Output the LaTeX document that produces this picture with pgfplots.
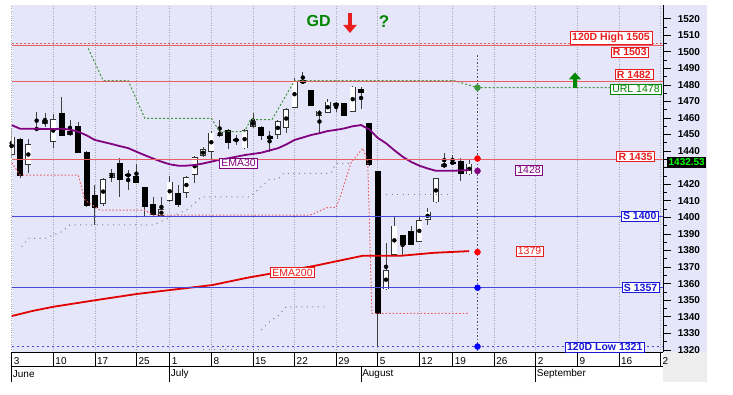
\documentclass[border=0pt]{standalone}
\usepackage{fontspec}
\setmainfont{Liberation Sans}
\usepackage{pgfplots}
\usepackage{pgfplotstable}
\pgfplotsset{compat=1.18}
\usetikzlibrary{arrows.meta}

\definecolor{lav}{RGB}{230,230,250}
\definecolor{rtxt}{RGB}{232,30,30}
\definecolor{rline}{RGB}{232,95,95}
\definecolor{btxt}{RGB}{25,25,215}
\definecolor{bline}{RGB}{70,70,215}
\definecolor{gtxt}{RGB}{0,135,0}
\definecolor{gline}{RGB}{60,150,60}
\definecolor{purp}{RGB}{128,0,128}
\definecolor{ema}{RGB}{225,0,0}
\definecolor{gridc}{RGB}{165,165,180}
\definecolor{vdot}{RGB}{80,80,100}

\pgfplotstableread{
i o h l c
0 1437.6 1453.7 1436.0 1448.7
2 1431.6 1447.0 1427.0 1444.3
4 1456.2 1462.8 1454.7 1458.8
5 1445.6 1462.4 1441.7 1459.2
7 1450.0 1459.0 1449.0 1452.0
11 1408.0 1424.0 1407.0 1423.1
12 1424.0 1429.0 1421.5 1426.6
18 1400.8 1412.0 1400.5 1404.8
19 1410.0 1425.0 1409.0 1421.5
21 1414.9 1425.0 1411.5 1424.2
22 1425.5 1437.0 1420.9 1436.2
23 1437.0 1442.3 1436.5 1441.0
24 1439.6 1452.0 1435.0 1451.1
25 1449.1 1458.8 1448.5 1451.7
28 1441.7 1453.5 1441.0 1452.7
29 1454.7 1462.8 1454.0 1458.3
32 1449.7 1459.0 1447.3 1458.3
33 1454.1 1466.0 1450.7 1465.2
34 1466.2 1483.9 1466.0 1482.5
37 1461.4 1465.0 1450.7 1464.4
38 1463.2 1471.3 1462.8 1469.8
39 1467.2 1469.5 1463.8 1468.8
41 1463.8 1479.5 1463.5 1478.9
45 1356.5 1384.3 1356.0 1368.2
46 1377.2 1400.4 1376.8 1395.0
49 1385.3 1400.8 1385.0 1398.4
50 1398.4 1405.4 1395.4 1403.4
51 1409.0 1424.0 1408.5 1423.5
52 1430.6 1439.0 1430.0 1432.2
55 1426.0 1434.4 1425.5 1432.5
}\whiteC

\pgfplotstableread{
i o h l c
1 1447.0 1448.0 1424.0 1425.5
3 1453.7 1463.8 1453.0 1453.0
6 1462.4 1472.8 1449.0 1449.3
8 1454.7 1457.7 1439.0 1439.2
9 1439.0 1440.0 1406.0 1407.4
10 1412.9 1419.5 1395.4 1406.0
13 1432.6 1435.6 1412.1 1423.0
14 1425.8 1428.5 1416.5 1425.1
15 1424.5 1432.2 1420.5 1420.9
16 1417.9 1418.5 1400.8 1406.4
17 1408.0 1412.0 1400.8 1402.0
20 1414.5 1419.5 1406.4 1408.0
26 1452.7 1453.5 1441.0 1445.0
27 1447.0 1449.7 1443.7 1446.3
30 1454.3 1455.0 1446.7 1449.7
31 1448.6 1452.3 1439.6 1447.9
35 1482.5 1487.9 1480.9 1481.2
36 1476.4 1476.8 1467.0 1467.4
40 1468.8 1469.0 1461.0 1461.2
42 1477.3 1478.9 1465.2 1475.2
43 1456.8 1457.0 1431.0 1431.6
44 1427.5 1428.0 1321.9 1342.0
47 1388.9 1389.5 1377.2 1383.3
48 1391.3 1394.7 1383.5 1383.9
53 1433.3 1437.6 1431.6 1432.6
54 1433.6 1435.6 1422.1 1426.6
}\blackC

\begin{document}
\begin{tikzpicture}
\path (0pt,0pt) rectangle (733pt,395pt);
\fill[lav] (11.7pt,43pt) rectangle (707pt,390pt);
\fill[black!7] (663pt,13pt) rectangle (707pt,43pt);
\begin{axis}[
  at={(11.7pt,43pt)}, anchor=south west,
  width=651.3pt, height=347pt, scale only axis,
  xmin=0, xmax=78.3, ymin=1318.7, ymax=1528.2,
  clip mode=individual,
  axis x line*=bottom, axis y line*=right,
  axis line style={black, line width=0.7pt},
  tick align=outside,
  xtick={0,5,10,15,19,24,29,34,39,44,49,53,58,63,68,73,78},
  xticklabels={3,10,17,25,1,8,15,22,29,5,12,19,26,2,9,16,2},
  xtick style={/pgfplots/major tick length=14pt, black, line width=0.6pt},
  xticklabel style={anchor=north west, inner sep=1pt, xshift=1pt, font=\fontsize{10}{12}\selectfont},
  xmajorgrids=true,
  major x grid style={gridc, dotted, line width=0.6pt},
  ytick={1320,1330,...,1520},
  yticklabels={1320,1330,1340,1350,1360,1370,1380,1390,1400,1410,1420,,1440,1450,1460,1470,1480,1490,1500,1510,1520},
  minor y tick num=1,
  ytick style={/pgfplots/major tick length=8pt, /pgfplots/minor tick length=4pt, black, line width=0.6pt},
  yticklabel style={anchor=west, xshift=7pt, font=\bfseries\fontsize{10}{12}\selectfont},
]
% wicks
\addplot[only marks, mark=none, forget plot, error bars/.cd, y dir=both, y explicit, error mark=none, error bar style={line width=0.8pt, draw=black!75}]
  table[x=i, y expr={(\thisrow{h}+\thisrow{l})/2}, y error expr={(\thisrow{h}-\thisrow{l})/2}] {\whiteC};
\addplot[only marks, mark=none, forget plot, error bars/.cd, y dir=both, y explicit, error mark=none, error bar style={line width=0.8pt, draw=black!75}]
  table[x=i, y expr={(\thisrow{h}+\thisrow{l})/2}, y error expr={(\thisrow{h}-\thisrow{l})/2}] {\blackC};
% bodies
\addplot[only marks, mark=none, forget plot, error bars/.cd, y dir=both, y explicit, error mark=none, error bar style={line width=6pt, draw=black, line cap=butt}]
  table[x=i, y expr={(\thisrow{o}+\thisrow{c})/2}, y error expr={abs(\thisrow{o}-\thisrow{c})/2+0.3}] {\blackC};
\addplot[only marks, mark=none, forget plot, error bars/.cd, y dir=both, y explicit, error mark=none, error bar style={line width=6pt, draw=black!80, line cap=butt}]
  table[x=i, y expr={(\thisrow{o}+\thisrow{c})/2}, y error expr={abs(\thisrow{o}-\thisrow{c})/2}] {\whiteC};
\addplot[only marks, mark=none, forget plot, error bars/.cd, y dir=both, y explicit, error mark=none, error bar style={line width=4.5pt, draw=white, line cap=butt}]
  table[x=i, y expr={(\thisrow{o}+\thisrow{c})/2}, y error expr={max(abs(\thisrow{o}-\thisrow{c})/2-0.45,0)}] {\whiteC};

% gray dotted bands
\addplot[gray, line width=1pt, dash pattern=on 1pt off 4.5pt] coordinates {(1.2,1382.3) (2,1387.3) (4,1387.3) (6,1391.3) (7,1395.4) (17,1395.4) (21,1404.4) (22,1408.5) (22.8,1412.4) (28.7,1412.4) (30,1418.5) (31,1423) (32,1423) (32.7,1426.6) (38.4,1426.6) (39,1432.6) (40.8,1432.6)};
\addplot[gray, line width=1pt, dash pattern=on 1pt off 4.5pt] coordinates {(45,1413.5) (52.5,1413.5)};
\addplot[gray, line width=1pt, dash pattern=on 1pt off 4.5pt] coordinates {(30,1332) (31,1337) (32,1340.4) (33,1346) (38,1346)};
\addplot[gray, line width=1pt, dash pattern=on 1pt off 4.5pt] coordinates {(23,1320) (30,1320)};
% red dotted trailing line
\addplot[rline, line width=1pt, dash pattern=on 1.5pt off 2pt] coordinates {(0,1433) (1,1425.5) (8,1425.5) (8.8,1410.4) (10,1406.4) (10.6,1404.4) (16,1404.4) (16.9,1401.4) (35.9,1401.4) (38,1406) (39,1406) (39.6,1414) (40.8,1433) (42.2,1441.7) (42.8,1434) (43.3,1342) (55,1342)};
% green URL line
\addplot[gline, line width=1pt, dash pattern=on 2pt off 2pt] coordinates {(9.2,1502) (11,1482.5) (14,1482.5) (16,1459.8) (24,1459.8) (25,1451.7) (28,1451.7) (28.7,1459) (31.3,1459) (34,1482.5) (53.2,1482.5) (56,1478.3) (72,1478.3)};

% EMA30
\addplot[purp, line width=1.8pt] coordinates {(0,1455.7) (1,1453.5) (2,1453.5) (3,1453.5) (4,1453.3) (5,1453.3) (6,1453.5) (7,1453) (8,1451.7) (9,1449.5) (10,1446.7) (11,1445.5) (12,1444.3) (13,1443) (14,1441.8) (15,1439.6) (16,1437.5) (17,1435.5) (18,1433.6) (19,1432) (20,1431.2) (21,1431.2) (22,1431.6) (23,1432.5) (24,1433.6) (25,1434.8) (26,1435.6) (27,1436.6) (28,1437.6) (29,1438.3) (30,1439) (31,1440.4) (32,1441.7) (33,1444) (34,1446.7) (35,1448.2) (36,1449.7) (37,1450.8) (38,1452.1) (39,1452.8) (40,1453.7) (41,1455) (42,1455.7) (43,1453) (44,1448) (45,1444.7) (46,1440.5) (47,1436.6) (48,1433.5) (49,1431.2) (50,1429.5) (51,1428.1) (52,1428.1) (53,1428.1) (54,1428.3) (55,1428.6)};
% EMA200
\addplot[ema, line width=1.8pt] coordinates {(0,1340.4) (2.6,1343.6) (5,1346) (10.1,1350) (15,1353.7) (19,1356.1) (24.1,1359.1) (28.3,1363.5) (36.3,1370.6) (42.2,1376.8) (46.8,1376.8) (50.8,1378.6) (55,1379.6)};

% level lines
\addplot[rline, line width=0.8pt, dash pattern=on 2pt off 2pt] coordinates {(0,1505.3) (78.3,1505.3)};
\addplot[rline, line width=0.9pt] coordinates {(0,1503.5) (78.3,1503.5)};
\addplot[rline, line width=0.9pt] coordinates {(0,1482.3) (78.3,1482.3)};
\addplot[rline, line width=0.9pt] coordinates {(0,1435) (78.3,1435)};
\addplot[bline, line width=0.9pt] coordinates {(0,1400.4) (78.3,1400.4)};
\addplot[bline, line width=0.9pt] coordinates {(0,1357.5) (78.3,1357.5)};
\addplot[bline, line width=0.9pt, dash pattern=on 2.5pt off 2.5pt] coordinates {(0,1322) (78.3,1322)};

% projection line and dots
\addplot[vdot, line width=1.5pt, dash pattern=on 1.5pt off 2pt] coordinates {(56,1498) (56,1318.7)};
\addplot[only marks, mark=*, mark size=3pt, color=red] coordinates {(56,1435.5) (56,1379)};
\addplot[only marks, mark=*, mark size=3pt, color=purp] coordinates {(56,1428)};
\addplot[only marks, mark=*, mark size=3pt, color=gline] coordinates {(56,1478.3)};
\addplot[only marks, mark=*, mark size=3pt, color=blue] coordinates {(56,1357.5) (56,1322)};

% labels
\tikzset{lb/.style={draw=#1, text=#1, fill=white, line width=0.6pt, inner xsep=2pt, inner ysep=1.4pt, font=\fontsize{10.5}{12}\selectfont},
         lbb/.style={lb=#1, font=\bfseries\fontsize{10.5}{12}\selectfont}}
\node[lbb=rtxt] at (axis cs:72.05,1508.3) {120D High 1505};
\node[lbb=rtxt] at (axis cs:74.3,1499.8) {R 1503};
\node[lbb=rtxt] at (axis cs:74.8,1486.2) {R 1482};
\node[lb=gtxt] at (axis cs:75.05,1477.5) {URL 1478};
\node[lbb=rtxt] at (axis cs:75.0,1436.7) {R 1435};
\node[lb=purp] at (axis cs:62.2,1428.6) {1428};
\node[lbb=btxt] at (axis cs:75.5,1400.8) {S 1400};
\node[lb=rtxt] at (axis cs:62.25,1379.6) {1379};
\node[lbb=btxt] at (axis cs:75.6,1357.6) {S 1357};
\node[lbb=btxt] at (axis cs:71.3,1321.7) {120D Low 1321};
\node[lb=purp] at (axis cs:27.27,1432.8) {EMA30};
\node[lb=rtxt] at (axis cs:33.76,1366.7) {EMA200};
\node[fill=black, text=green, inner xsep=1.5pt, inner ysep=2pt, font=\bfseries\fontsize{10}{12}\selectfont] at (axis cs:81.15,1433.1) {1432.53};

% top annotations
\node[text=gtxt, font=\bfseries\fontsize{16}{18}\selectfont] at (axis cs:36.9,1518.3) {GD};
\node[text=gtxt, font=\bfseries\fontsize{17}{19}\selectfont] at (axis cs:44.76,1518) {?};
\draw[rtxt, line width=4pt, -{Triangle[width=13pt,length=8pt]}] (axis cs:40.67,1523.6) -- (axis cs:40.67,1511.3);
\draw[gtxt, line width=4pt, -{Triangle[width=12pt,length=7pt]}] (axis cs:67.72,1478.3) -- (axis cs:67.72,1487.5);

% x axis second row
\draw[black, line width=0.6pt] ([yshift=-14pt]axis cs:0,1318.7) -- ([yshift=-14pt]axis cs:78.3,1318.7);
\draw[black, line width=0.6pt] ([yshift=-14pt]axis cs:0,1318.7) -- ([yshift=-30pt]axis cs:0,1318.7);
\draw[black, line width=0.6pt] ([yshift=-14pt]axis cs:19,1318.7) -- ([yshift=-30pt]axis cs:19,1318.7);
\draw[black, line width=0.6pt] ([yshift=-14pt]axis cs:42,1318.7) -- ([yshift=-30pt]axis cs:42,1318.7);
\draw[black, line width=0.6pt] ([yshift=-14pt]axis cs:63,1318.7) -- ([yshift=-30pt]axis cs:63,1318.7);
\node[anchor=west, inner sep=1pt, font=\fontsize{10}{12}\selectfont] at ([yshift=-22pt]axis cs:0,1318.7) {June};
\node[anchor=west, inner sep=1pt, font=\fontsize{10}{12}\selectfont] at ([yshift=-22pt]axis cs:19,1318.7) {July};
\node[anchor=west, inner sep=1pt, font=\fontsize{10}{12}\selectfont] at ([yshift=-22pt]axis cs:42,1318.7) {August};
\node[anchor=west, inner sep=1pt, font=\fontsize{10}{12}\selectfont] at ([yshift=-22pt]axis cs:63,1318.7) {September};
\end{axis}
\end{tikzpicture}
\end{document}
